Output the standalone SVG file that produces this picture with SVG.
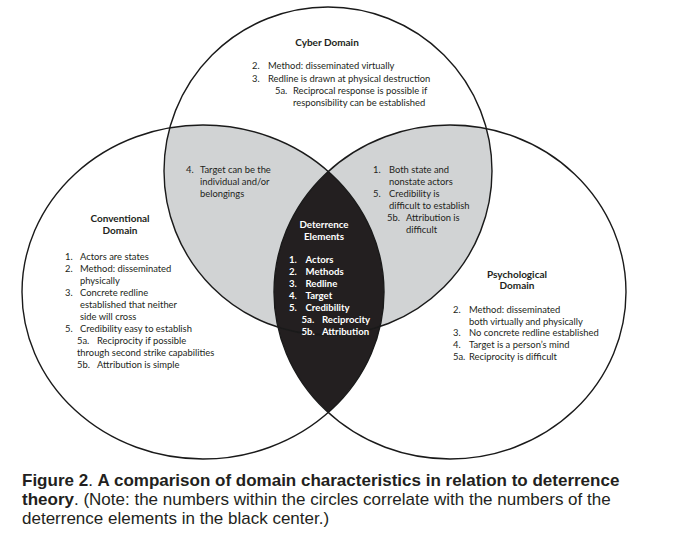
<svg xmlns="http://www.w3.org/2000/svg" width="691" height="546" viewBox="0 0 691 546">
<style>
.t{font-family:Lato,"Noto Sans","Liberation Sans",sans-serif;font-size:9.4px;fill:#231f20}
.h{font-family:Lato,"Noto Sans","Liberation Sans",sans-serif;font-size:10px;font-weight:bold;fill:#231f20;text-anchor:middle}
.w{font-family:Lato,"Noto Sans","Liberation Sans",sans-serif;font-size:9.6px;font-weight:bold;fill:#ffffff}
.wh{font-family:Lato,"Noto Sans","Liberation Sans",sans-serif;font-size:9.8px;font-weight:bold;fill:#ffffff;text-anchor:middle}
.ol{fill:none;stroke:#1a1a1a;stroke-width:1.4}
.cap{font-family:"Liberation Sans",Arial,sans-serif;font-size:17px;fill:#231f20}
.b{font-weight:bold}
</style>
<defs>
<clipPath id="cL"><ellipse cx="203" cy="292" rx="181" ry="167"/></clipPath>
<clipPath id="cR"><ellipse cx="450" cy="292" rx="176" ry="167"/></clipPath>
</defs>
<rect width="691" height="546" fill="#ffffff"/>
<g id="fills">
<circle cx="328" cy="171" r="164" fill="#d1d3d4" clip-path="url(#cL)"/>
<circle cx="328" cy="171" r="164" fill="#d1d3d4" clip-path="url(#cR)"/>
<ellipse cx="203" cy="292" rx="181" ry="167" fill="#231f20" clip-path="url(#cR)"/>
</g>
<g id="outlines">
<circle class="ol" cx="328" cy="171" r="164"/>
<ellipse class="ol" cx="203" cy="292" rx="181" ry="167"/>
<ellipse class="ol" cx="450" cy="292" rx="176" ry="167"/>
</g>
<g id="node-cyber">
<text class="h" x="327" y="46">Cyber Domain</text>
<text class="t" y="69"><tspan x="252">2.</tspan><tspan x="268">Method: disseminated virtually</tspan></text>
<text class="t" y="81.5"><tspan x="252">3.</tspan><tspan x="268">Redline is drawn at physical destruction</tspan></text>
<text class="t" y="94"><tspan x="275">5a.</tspan><tspan x="293">Reciprocal response is possible if</tspan></text>
<text class="t" y="106"><tspan x="293">responsibility can be established</tspan></text>
</g>
<g id="node-cyber-conventional">
<text class="t" y="173"><tspan x="186">4.</tspan><tspan x="200">Target can be the</tspan></text>
<text class="t" y="185"><tspan x="200">individual and/or</tspan></text>
<text class="t" y="196.5"><tspan x="200">belongings</tspan></text>
</g>
<g id="node-cyber-psychological">
<text class="t" y="173"><tspan x="373">1.</tspan><tspan x="389">Both state and</tspan></text>
<text class="t" y="185"><tspan x="389">nonstate actors</tspan></text>
<text class="t" y="197"><tspan x="373">5.</tspan><tspan x="389">Credibility is</tspan></text>
<text class="t" y="209"><tspan x="389">difficult to establish</tspan></text>
<text class="t" y="221"><tspan x="387">5b.</tspan><tspan x="406">Attribution is</tspan></text>
<text class="t" y="233"><tspan x="406">difficult</tspan></text>
</g>
<g id="node-conventional">
<text class="h" x="120" y="222">Conventional</text>
<text class="h" x="120" y="234">Domain</text>
<text class="t" y="260"><tspan x="65">1.</tspan><tspan x="80">Actors are states</tspan></text>
<text class="t" y="272"><tspan x="65">2.</tspan><tspan x="80">Method: disseminated</tspan></text>
<text class="t" y="284"><tspan x="80">physically</tspan></text>
<text class="t" y="296"><tspan x="65">3.</tspan><tspan x="80">Concrete redline</tspan></text>
<text class="t" y="308"><tspan x="80">established that neither</tspan></text>
<text class="t" y="320"><tspan x="80">side will cross</tspan></text>
<text class="t" y="332"><tspan x="65">5.</tspan><tspan x="80">Credibility easy to establish</tspan></text>
<text class="t" y="344"><tspan x="77">5a.</tspan><tspan x="97">Reciprocity if possible</tspan></text>
<text class="t" y="356"><tspan x="77">through second strike capabilities</tspan></text>
<text class="t" y="368"><tspan x="77">5b.</tspan><tspan x="97">Attribution is simple</tspan></text>
</g>
<g id="node-deterrence">
<text class="wh" x="324" y="228">Deterrence</text>
<text class="wh" x="324" y="240">Elements</text>
<text class="w" y="262.5"><tspan x="289">1.</tspan><tspan x="305.5">Actors</tspan></text>
<text class="w" y="274.5"><tspan x="289">2.</tspan><tspan x="305.5">Methods</tspan></text>
<text class="w" y="286.5"><tspan x="289">3.</tspan><tspan x="305.5">Redline</tspan></text>
<text class="w" y="298.5"><tspan x="289">4.</tspan><tspan x="305.5">Target</tspan></text>
<text class="w" y="310.5"><tspan x="289">5.</tspan><tspan x="305.5">Credibility</tspan></text>
<text class="w" y="322.5"><tspan x="301.5">5a.</tspan><tspan x="322">Reciprocity</tspan></text>
<text class="w" y="334.5"><tspan x="301.5">5b.</tspan><tspan x="322">Attribution</tspan></text>
</g>
<g id="node-psychological">
<text class="h" x="517" y="277.5">Psychological</text>
<text class="h" x="517" y="289">Domain</text>
<text class="t" y="312.5"><tspan x="453">2.</tspan><tspan x="469">Method: disseminated</tspan></text>
<text class="t" y="324.5"><tspan x="469">both virtually and physically</tspan></text>
<text class="t" y="336"><tspan x="453">3.</tspan><tspan x="469">No concrete redline established</tspan></text>
<text class="t" y="348"><tspan x="453">4.</tspan><tspan x="469">Target is a person’s mind</tspan></text>
<text class="t" y="360"><tspan x="453">5a.</tspan><tspan x="469">Reciprocity is difficult</tspan></text>
</g>
<g id="caption">
<text class="cap" x="22" y="486"><tspan class="b">Figure 2</tspan>. <tspan class="b">A comparison of domain characteristics in relation to deterrence</tspan></text>
<text class="cap" x="22" y="505"><tspan class="b">theory</tspan>. (Note: the numbers within the circles correlate with the numbers of the</text>
<text class="cap" x="22" y="523.5">deterrence elements in the black center.)</text>
</g>
</svg>
